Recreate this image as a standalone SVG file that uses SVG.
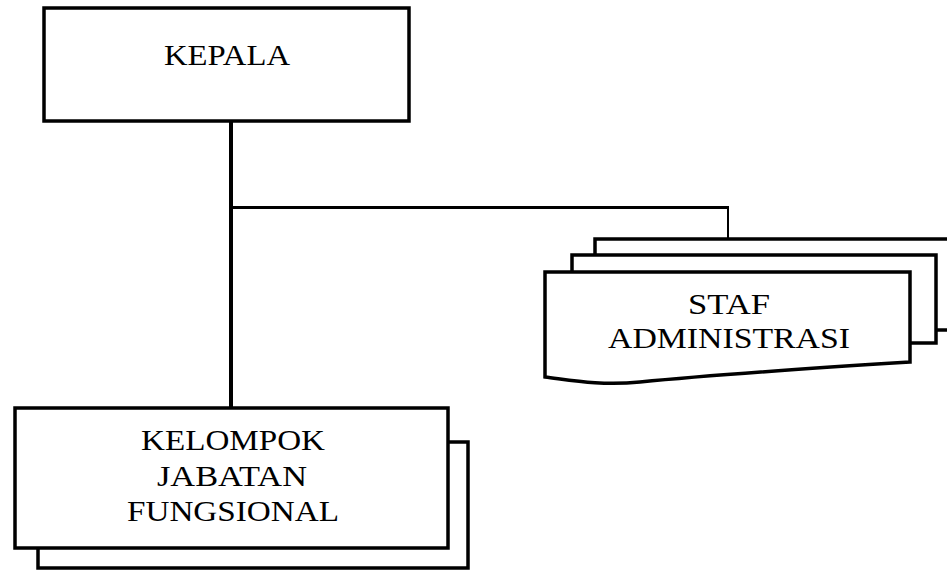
<svg xmlns="http://www.w3.org/2000/svg" width="947" height="570" viewBox="0 0 947 570">
<style>
.box{fill:#fff;stroke:#000;stroke-width:3.5}
.ln{fill:none;stroke:#000;stroke-width:3}
.txt{font-family:"Liberation Serif","Times New Roman",serif;font-size:30px;fill:#000;text-anchor:middle}
</style>
<rect width="947" height="570" fill="#fff"/>
<g id="connectors">
<line class="ln" x1="231" y1="116" x2="231" y2="407" style="stroke-width:4"/>
<line class="ln" x1="231" y1="207.5" x2="728" y2="207.5"/>
<line class="ln" x1="728" y1="206" x2="728" y2="241" style="stroke-width:2"/>
</g>
<g id="kepala">
<rect class="box" x="44" y="8" width="365" height="113"/>
<text class="txt" x="227" y="65" textLength="126" lengthAdjust="spacingAndGlyphs">KEPALA</text>
</g>
<g id="staf-administrasi">
<rect class="box" x="595" y="239" width="370" height="91"/>
<rect class="box" x="572" y="255" width="364" height="88"/>
<path class="box" d="M545,272 H910 V362 C830,367 720,374 640,382 C600,386 570,380 545,377 Z"/>
<text class="txt" x="729" y="314" textLength="82" lengthAdjust="spacingAndGlyphs">STAF</text>
<text class="txt" x="729" y="348" textLength="242" lengthAdjust="spacingAndGlyphs">ADMINISTRASI</text>
</g>
<g id="kelompok-jabatan-fungsional">
<rect class="box" x="38" y="442" width="430" height="126"/>
<rect class="box" x="15" y="408" width="433" height="140"/>
<text class="txt" x="233" y="450" textLength="184" lengthAdjust="spacingAndGlyphs">KELOMPOK</text>
<text class="txt" x="232" y="486" textLength="150" lengthAdjust="spacingAndGlyphs">JABATAN</text>
<text class="txt" x="233" y="521" textLength="212" lengthAdjust="spacingAndGlyphs">FUNGSIONAL</text>
</g>
</svg>
